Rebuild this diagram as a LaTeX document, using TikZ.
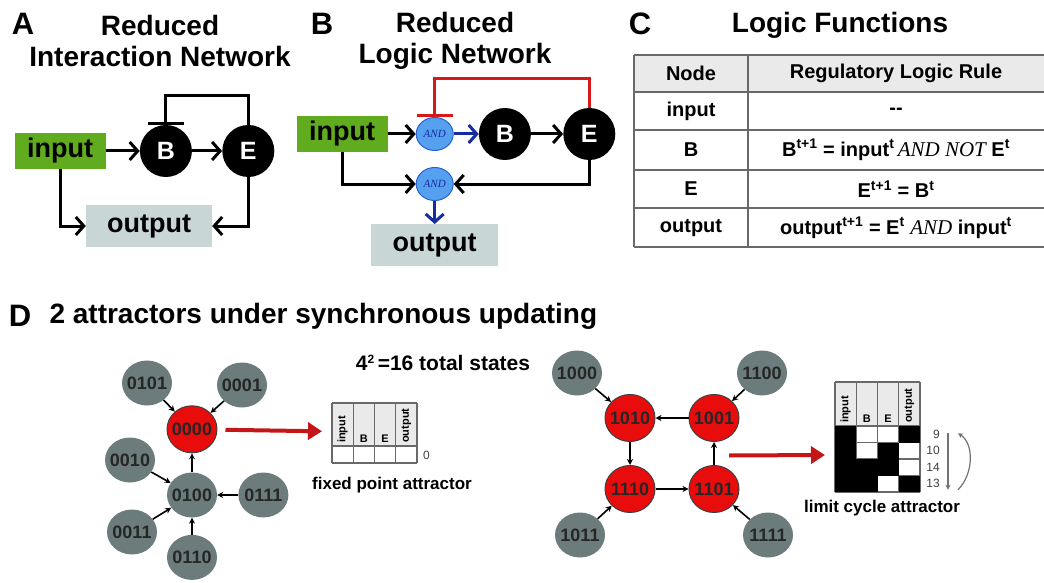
\documentclass[tikz,border=0pt]{standalone}
\usepackage{fontspec}
\setmainfont{Liberation Sans}
\newfontfamily\timesfont{Liberation Serif}
\usetikzlibrary{positioning,arrows.meta,shapes.geometric,calc}

\definecolor{inputgreen}{RGB}{96,172,30}
\definecolor{outputgray}{RGB}{200,214,214}
\definecolor{stategray}{RGB}{108,124,124}
\definecolor{statered}{RGB}{232,12,12}
\definecolor{arrowred}{RGB}{196,22,22}
\definecolor{inhred}{RGB}{214,24,24}
\definecolor{andfill}{RGB}{86,160,240}
\definecolor{andline}{RGB}{40,96,210}
\definecolor{andarrow}{RGB}{22,44,160}
\definecolor{headgray}{RGB}{234,234,234}
\definecolor{rulegray}{RGB}{105,105,105}

\newcommand{\fsz}[1]{\fontsize{#1}{#1}\selectfont}
\newcommand{\tsup}[1]{\textsuperscript{#1}}
\newcommand{\lgc}[1]{{\timesfont\mdseries\itshape\fsz{21}#1}}

\begin{document}
\begin{tikzpicture}[x=1pt,y=-1pt,
    panel/.style={font=\fsz{31}\bfseries},
    heading/.style={font=\fontsize{28}{31}\selectfont\bfseries,align=center},
    inbox/.style={fill=inputgreen,minimum width=91pt,minimum height=36pt,inner sep=0pt,font=\fsz{27}\bfseries},
    outbox/.style={fill=outputgray,minimum width=126pt,minimum height=42pt,inner sep=0pt,font=\fsz{27}\bfseries},
    species/.style={circle,fill=black,text=white,minimum size=52pt,inner sep=0pt,font=\fsz{25}\bfseries},
    andgate/.style={ellipse,fill=andfill,draw=andline,line width=1pt,minimum width=37pt,minimum height=33pt,inner sep=0pt,text=andarrow,font=\timesfont\itshape\fsz{11}},
    act/.style={line width=3pt,-{Straight Barb[length=8pt,width=18pt]}},
    inh/.style={line width=3pt,-{Bar[width=36pt]}},
    tabtext/.style={font=\fsz{20}\bfseries},
    tabrule/.style={draw=rulegray,line width=1.2pt},
    stnode/.style={ellipse,fill=stategray,minimum width=50pt,minimum height=45pt,inner xsep=-5pt,inner ysep=0pt,font=\fsz{18}\bfseries,text=black!85},
    attr/.style={stnode,fill=statered,draw=black!75,line width=1pt,minimum height=47pt},
    trans/.style={line width=1.6pt,-{Stealth[length=6pt,width=6pt]}},
    jump/.style={draw=arrowred,line width=4pt,-{Triangle[length=14pt,width=17pt]}},
    collab/.style={font=\fsz{11}\bfseries,inner sep=1pt},
    steplab/.style={font=\fsz{12},text=black!75,inner sep=1pt},
    cycarr/.style={draw=black!55,line width=1.2pt,-{Stealth[length=5pt,width=5pt]}},
    attrcap/.style={font=\fsz{17}\bfseries}
  ]
\useasboundingbox (0,0) rectangle (1044,583);

\node[panel] (lblA) at (23,24) {A};
\node[heading] (headA) at (160,41) {Reduced\\Interaction Network};
\node[inbox] (inA) at (60,151) {input};
\node[species,right=34pt of inA] (BA) {B};
\node[species,right=30pt of BA] (EA) {E};
\node[outbox] (outA) at (149,226) {output};
\draw[act] (inA) -- (BA);
\draw[act] (BA) -- (EA);
\draw[inh] (EA.north) -- ++(0,-29) -| (BA.north);
\draw[act] (inA.south) |- (outA.west);
\draw[act] (EA.south) |- (outA.east);

\node[panel] (lblB) at (322,24) {B};
\node[heading] (headB) at (455,41) {Reduced\\Logic Network};
\node[inbox] (inB) at (342,134) {input};
\node[andgate,right=28pt of inB] (andB) {AND};
\node[species,right=25pt of andB] (BB) {B};
\node[species,right=32pt of BB] (EB) {E};
\node[andgate,below=16pt of andB] (andO) {AND};
\node[outbox,minimum width=127pt,below=23pt of andO] (outB) {output};
\draw[act] (inB) -- (andB);
\draw[act,andarrow] (andB) -- (BB);
\draw[act] (BB) -- (EB);
\draw[inh,inhred] (EB.north) -- ++(0,-29) -| (andB.north);
\draw[act] (inB.south) |- (andO.west);
\draw[act] (EB.south) |- (andO.east);
\draw[act,andarrow] (andO) -- (outB);

\node[panel] (lblC) at (640,24) {C};
\node[heading] (headC) at (840,25) {Logic Functions};
\fill[headgray] (634,55) rectangle (1044,92);
\foreach \y in {55,92,130,170,208,247}
  \draw[tabrule] (634,\y) -- (1044,\y);
\foreach \x in {634,748}
  \draw[tabrule] (\x,55) -- (\x,247);
\node[tabtext] (nodeH) at (691,73) {Node};
\node[tabtext] (ruleH) at (896,73) {Regulatory Logic Rule};
\node[tabtext] (node1) at (691,111) {input};
\node[tabtext] (rule1) at (896,111) {-{}-};
\node[tabtext] (node2) at (691,150) {B};
\node[tabtext] (rule2) at (896,150) {B\tsup{t+1} = input\tsup{t}\,\lgc{AND NOT} E\tsup{t}};
\node[tabtext] (node3) at (691,189) {E};
\node[tabtext] (rule3) at (896,189) {E\tsup{t+1} = B\tsup{t}};
\node[tabtext] (node4) at (691,228) {output};
\node[tabtext] (rule4) at (896,228) {output\tsup{t+1} = E\tsup{t} \lgc{AND} input\tsup{t}};

\node[panel] (lblD) at (20,316) {D};
\node[font=\fsz{28}\bfseries,anchor=west] (headD) at (46,316) {2 attractors under synchronous updating};
\node[font=\fsz{21}\bfseries] (total) at (443,363) {4{\fsz{12}\raisebox{7pt}{2}}\,=16 total states};

\node[stnode] (s0100) at (192,495) {0100};
\node[attr,above=19pt of s0100] (s0000) {0000};
\node[stnode,below=17pt of s0100] (s0110) {0110};
\node[stnode,right=21pt of s0100] (s0111) {0111};
\node[stnode] (s0101) at (147,383) {0101};
\node[stnode] (s0001) at (242,385) {0001};
\node[stnode] (s0010) at (130,460) {0010};
\node[stnode] (s0011) at (132,532) {0011};
\draw[trans] (s0101) -- (s0000);
\draw[trans] (s0001) -- (s0000);
\draw[trans] (s0100) -- (s0000);
\draw[trans] (s0010) -- (s0100);
\draw[trans] (s0111) -- (s0100);
\draw[trans] (s0011) -- (s0100);
\draw[trans] (s0110) -- (s0100);

\fill[headgray] (332,403) rectangle (417,446);
\foreach \x in {332,353.25,374.5,395.75,417}
  \draw[tabrule] (\x,403) -- (\x,463);
\foreach \y in {403,446,463}
  \draw[tabrule] (332,\y) -- (417,\y);
\node[collab,rotate=90,anchor=west] (fpin) at (342.6,444) {input};
\node[collab,anchor=south] (fpB) at (363.9,444) {B};
\node[collab,anchor=south] (fpE) at (385.1,444) {E};
\node[collab,rotate=90,anchor=west] (fpout) at (406.4,444) {output};
\node[steplab,anchor=west] (fp0) at (422,455) {0};
\node[attrcap] (fpcap) at (392,485) {fixed point attractor};
\coordinate (fptip) at ($(s0000)+(130,2)$);
\draw[jump,shorten <=8pt] (s0000) -- (fptip);

\node[attr] (s1010) at (630,418) {1010};
\node[attr,right=33pt of s1010] (s1001) {1001};
\node[attr,below=23pt of s1010] (s1110) {1110};
\node[attr,below=23pt of s1001] (s1101) {1101};
\node[stnode] (s1000) at (577,373) {1000};
\node[stnode] (s1100) at (762,373) {1100};
\node[stnode] (s1011) at (580,535) {1011};
\node[stnode] (s1111) at (768,535) {1111};
\draw[trans] (s1000) -- (s1010);
\draw[trans] (s1100) -- (s1001);
\draw[trans] (s1001) -- (s1010);
\draw[trans] (s1010) -- (s1110);
\draw[trans] (s1110) -- (s1101);
\draw[trans] (s1101) -- (s1001);
\draw[trans] (s1011) -- (s1110);
\draw[trans] (s1111) -- (s1101);

\fill[headgray] (835,382) rectangle (920,426);
\foreach \x in {835,856.25,877.5,898.75,920}
  \draw[tabrule] (\x,382) -- (\x,492);
\foreach \y in {382,426,442.5,459,475.5,492}
  \draw[tabrule] (835,\y) -- (920,\y);
\foreach \row [count=\r] in {{1,0,0,1},{1,0,1,0},{1,1,1,0},{1,1,0,1}}
  \foreach \b [count=\c] in \row {
    \ifnum\b=1 \fill ({813.75+21.25*\c},{409.5+16.5*\r}) rectangle ++(21.25,16.5); \fi
  }
\node[collab,rotate=90,anchor=west] (lcin) at (845.6,424) {input};
\node[collab,anchor=south] (lcB) at (866.9,424) {B};
\node[collab,anchor=south] (lcE) at (888.1,424) {E};
\node[collab,rotate=90,anchor=west] (lcout) at (909.4,424) {output};
\foreach \n [count=\r] in {9,10,14,13}
  \node[steplab,anchor=east] (lc\r) at (941,{417.75+16.5*\r}) {\n};
\draw[cycarr] ($(lc1.east)+(7,-1)$) -- ($(lc4.east)+(7,6)$);
\draw[cycarr] ($(lc4.east)+(17,6)$) .. controls ($(lc4.east)+(33,-10)$) and ($(lc1.east)+(33,9)$) .. ($(lc1.east)+(17,-1)$);
\node[attrcap] (lccap) at (882,508) {limit cycle attractor};
\coordinate (lcfrom) at ($(s1001)!.5!(s1101)+(15,2)$);
\coordinate (lctip) at (825,455);
\draw[jump] (lcfrom) -- (lctip);
\end{tikzpicture}
\end{document}
